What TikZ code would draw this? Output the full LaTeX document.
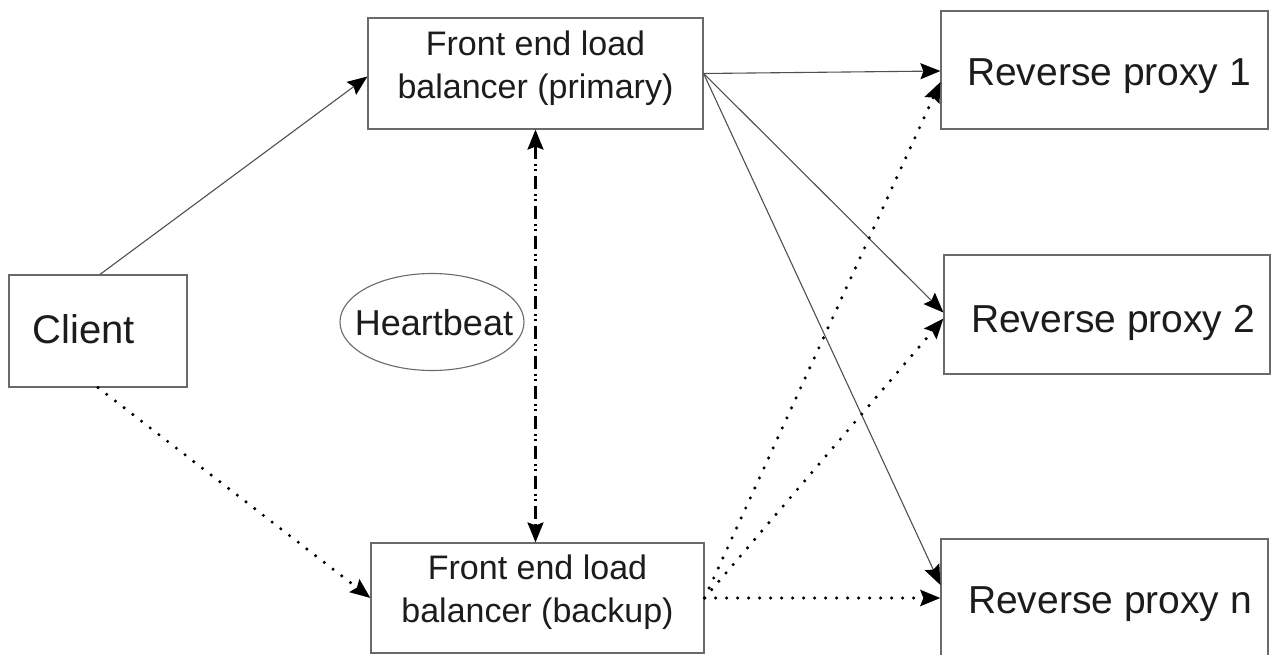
\documentclass[tikz,border=0pt]{standalone}
\usepackage{fontspec}
\setmainfont{Liberation Sans}
\usetikzlibrary{arrows.meta,calc,shapes.geometric}
\definecolor{boxline}{HTML}{6A6A6A}
\definecolor{conn}{HTML}{505050}
\definecolor{txt}{HTML}{1C1C1C}
\tikzset{
  boxnode/.style={draw=boxline, line width=1.2pt, rectangle, inner sep=0pt},
  bigtext/.style={text=txt, font=\fontsize{39}{44}\selectfont, inner sep=0pt, anchor=base},
  lbtext/.style={text=txt, font=\fontsize{34}{43}\selectfont, inner sep=0pt, anchor=base, align=center},
  headtip/.tip={Stealth[length=20pt,width=16pt,inset=3pt,color=black,fill=black]},
  tip/.style={-headtip},
  solidconn/.style={tip, draw=conn, line width=1.1pt},
  dotconn/.style={tip, draw=black, line width=3.4pt, line cap=round, dash pattern=on 0pt off 11pt},
  beatconn/.style={headtip-headtip, draw=black, line width=2.4pt, dash pattern=on 13pt off 5pt on 2pt off 3pt on 2pt off 5pt},
}
\begin{document}
\begin{tikzpicture}[x=1pt,y=-1pt]
\useasboundingbox (0,0) rectangle (1272,654);
\clip (0,0) rectangle (1272,654);
\fill[white] (0,0) rectangle (1272,654);

% boxes
\node[boxnode, minimum width=178pt, minimum height=112pt] (client) at (98,331) {};
\node[boxnode, minimum width=335pt, minimum height=111pt] (prim) at (535.5,73.5) {};
\node[boxnode, minimum width=333pt, minimum height=110pt] (back) at (537.5,598) {};
\node[boxnode, minimum width=327pt, minimum height=118pt] (rp1) at (1104.5,70) {};
\node[boxnode, minimum width=326pt, minimum height=119pt] (rp2) at (1107,314.5) {};
\node[boxnode, minimum width=327pt, minimum height=122pt] (rpn) at (1104.5,600) {};
\node[draw=boxline, line width=1.1pt, ellipse, minimum width=184pt, minimum height=97pt, inner sep=0pt] (beat) at (432,322) {};

% texts
\node[bigtext, font=\fontsize{40}{44}\selectfont] (clientt) at (84,343) {Client};
\node[lbtext] (primt) at (535.5,98) {Front end load\\balancer (primary)};
\node[lbtext] (backt) at (537.5,622) {Front end load\\balancer (backup)};
\node[bigtext] (rp1t) at (1109,85) {Reverse proxy 1};
\node[bigtext] (rp2t) at (1113,332) {Reverse proxy 2};
\node[bigtext] (rpnt) at (1110,613) {Reverse proxy n};
\node[text=txt, font=\fontsize{36}{40}\selectfont, inner sep=0pt, anchor=base] (beatt) at (434,335) {Heartbeat};

% connectors
\draw[solidconn] ($(client.north)+(2,0)$) -- ($(prim.west)+(0,3)$);
\draw[dotconn] (client.south) -- (back.west);
\draw[beatconn] (prim.south) -- (prim.south |- back.north);

\draw[solidconn] (prim.east) -- ($(rp1.west)+(0,1)$);
\draw[solidconn] (prim.east) -- ($(rp2.west)+(0,-2)$);
\draw[solidconn] (prim.east) -- ($(rpn.west)+(0,-15)$);

\draw[dotconn] (back.east) -- ($(rp1.west)+(0,12)$);
\draw[dotconn] (back.east) -- ($(rp2.west)+(0,4)$);
\draw[dotconn] (back.east) -- ($(rpn.west)+(0,-2)$);
\end{tikzpicture}
\end{document}
